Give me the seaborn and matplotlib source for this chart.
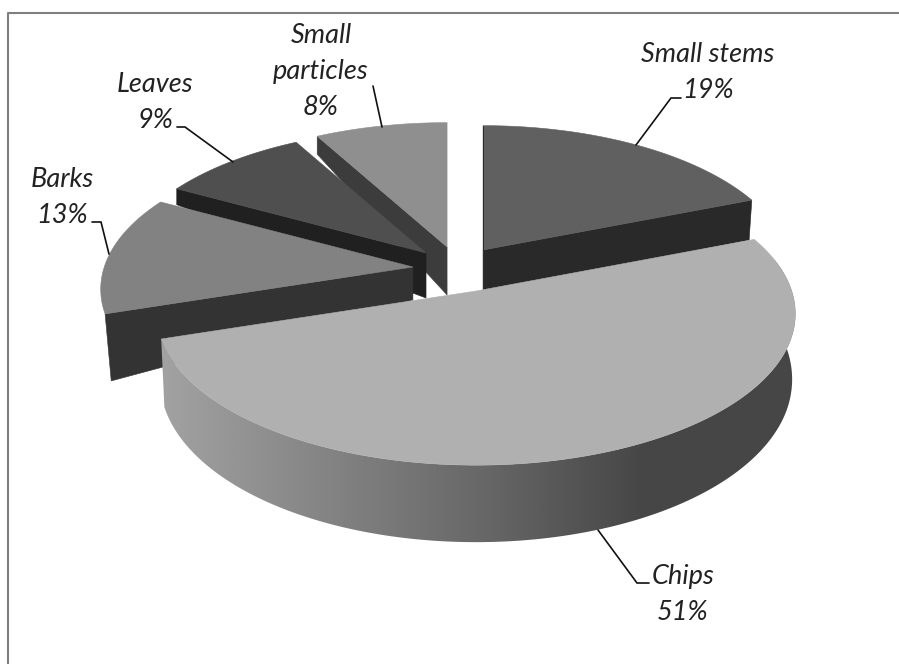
import numpy as np
import matplotlib
matplotlib.use("Agg")
import matplotlib.pyplot as plt
from matplotlib.patches import Polygon
import seaborn as sns

# Mass share of each fraction, clockwise from twelve o'clock
names = ["Small stems", "Chips", "Barks", "Leaves", "Small\nparticles"]
shares = [19, 51, 13, 9, 8]

# Appearance of each wedge
top_colors = ["#606060", "#b0b0b0", "#828282", "#4f4f4f", "#8f8f8f"]
wall_colors = ["#292929", "#b0b0b0", "#333333", "#202020", "#3c3c3c"]
explode_x = [0.092, 0.069, -0.138, -0.095, -0.026]
explode_y = [0.084, -0.203, -0.035, 0.063, 0.105]
radius_scale = [1.0, 1.035, 1.012, 1.0, 1.0]
floor_shrink = [0.99, 0.99, 0.98, 1.0, 1.0]
wall_edge = ["end", None, "start", "start", "start"]
depth_apex = [42, 0, 33, 45, 48]
depth_rim = [40, 0, 67, 16, 18]

# Label placement: centre x and first baseline, with the leader polyline
label_x = [708, 683, 62, 155, 321]
label_y = [62, 584, 187, 92, 43]
leaders = [
    [(681, 98), (671, 98), (636, 145)],
    [(598, 530), (637, 583), (649, 583)],
    [(92, 222), (101, 222), (109, 254)],
    [(177, 127), (185, 127), (233, 162)],
    [(373, 86), (382, 127)],
]

# Projection of the disc onto the page
CX, CY = 455, 262
A, B, PERSPECTIVE = 305, 143, 0.15
LINE_STEP = 36

sns.set_theme(style="white")
plt.rcParams["font.family"] = ["Lato", "DejaVu Sans"]

fig = plt.figure(figsize=(8.99, 6.64), dpi=100)
ax = fig.add_axes([0, 0, 1, 1])
ax.axis("off")


def rim(theta, scale=1.0):
    """Offset from a wedge apex of the rim point at clockwise angle theta."""
    u, v = np.sin(theta), np.cos(theta)
    s = scale / (1 + PERSPECTIVE * v)
    return A * u * s, -B * v * s


# Frame around the plot, clipped at the right and bottom
ax.plot([8, 8, 899], [664, 13, 13], color="#7f7f7f", lw=1.5, zorder=0)

edges = np.radians(np.concatenate([[0], np.cumsum(shares)]) * 3.6)
order = [4, 3, 2, 0, 1]  # far wedges first, Chips last
wall_ramp = np.array(sns.blend_palette(
    ["#a4a4a4", "#868686", "#686868", "#464646", "#464646"], 512
))[:, :3]

for z, i in enumerate(order):
    ax_x = CX + explode_x[i] * A
    ax_y = CY - explode_y[i] * B
    start, end = edges[i], edges[i + 1]
    thetas = np.linspace(start, end, 200)
    rx, ry = rim(thetas, radius_scale[i])

    # Outer wall of the front wedge, shaded from left to right
    if names[i] == "Chips":
        front = thetas[thetas >= np.radians(75)]
        wx, wy = rim(front, radius_scale[i])
        depth = np.interp(np.cos(front), [-1, -0.3, 0.2, 0.6], [77, 68, 60, 30])
        outline = np.vstack([
            np.column_stack([ax_x + wx, ax_y + wy]),
            np.column_stack([ax_x + wx * floor_shrink[i],
                             ax_y + wy + depth])[::-1],
        ])
        shell = Polygon(outline, closed=True, facecolor="none",
                        edgecolor="none", transform=ax.transData)
        ax.add_patch(shell)
        ax.imshow(wall_ramp[np.newaxis, :, :], extent=(150, 810, 560, 260),
                  aspect="auto", interpolation="bilinear",
                  clip_path=shell, zorder=2 * z + 1)

    # Cut face exposed by pulling the wedge away from the pie
    if wall_edge[i] is not None:
        edge = end if wall_edge[i] == "end" else start
        px, py = rim(edge, radius_scale[i])
        ax.fill(
            [ax_x + px, ax_x, ax_x, ax_x + px * floor_shrink[i]],
            [ax_y + py, ax_y, ax_y + depth_apex[i], ax_y + py + depth_rim[i]],
            color=wall_colors[i], lw=0.4, zorder=2 * z + 1,
        )

    # Top face
    ax.fill(
        np.concatenate([[ax_x], ax_x + rx]),
        np.concatenate([[ax_y], ax_y + ry]),
        color=top_colors[i], lw=0.4, zorder=2 * z + 2,
    )

    # Hairline along the left cut of the first wedge
    if names[i] == "Small stems":
        ex, ey = rim(start, radius_scale[i])
        ax.plot([ax_x + ex, ax_x], [ax_y + ey, ax_y], color="#2a2a2a", lw=0.7,
                zorder=2 * z + 2)

# Leaders and italic labels stating each share
for i, name in enumerate(names):
    xs, ys = zip(*leaders[i])
    ax.plot(xs, ys, color="#111111", lw=1.2, zorder=30,
            solid_joinstyle="miter")
    lines = name.split("\n") + [f"{shares[i]}%"]
    for n, line in enumerate(lines):
        ax.text(label_x[i], label_y[i] + n * LINE_STEP, line, ha="center",
                va="baseline", fontsize=19.5, style="italic", color="#222222",
                zorder=31)

ax.set_xlim(0, 899)
ax.set_ylim(664, 0)
fig.savefig("out.png", dpi=100, facecolor="white")
